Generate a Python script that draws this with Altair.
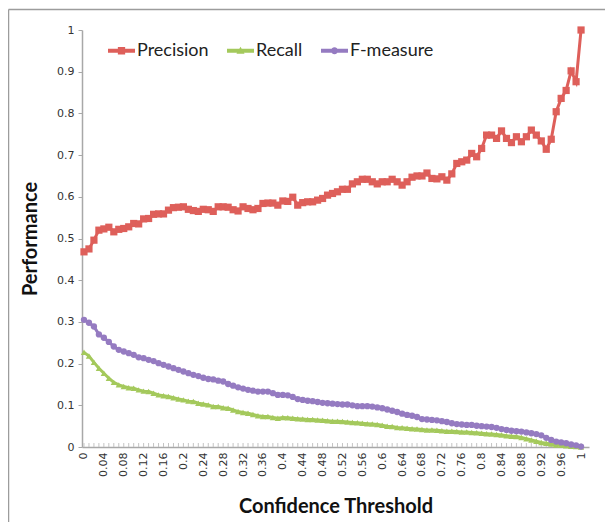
import altair as alt
import pandas as pd

thresholds = [round(i * 0.01, 2) for i in range(101)]

precision = [
    0.468, 0.475, 0.496, 0.520, 0.523, 0.527, 0.516, 0.522, 0.524, 0.528,
    0.536, 0.535, 0.547, 0.548, 0.558, 0.559, 0.559, 0.568, 0.574, 0.575,
    0.576, 0.570, 0.567, 0.565, 0.570, 0.569, 0.565, 0.576, 0.576, 0.575,
    0.569, 0.566, 0.576, 0.572, 0.569, 0.572, 0.584, 0.585, 0.585, 0.580,
    0.590, 0.589, 0.599, 0.580, 0.586, 0.588, 0.588, 0.592, 0.596, 0.604,
    0.608, 0.612, 0.618, 0.618, 0.631, 0.636, 0.642, 0.642, 0.636, 0.631,
    0.636, 0.636, 0.642, 0.636, 0.628, 0.636, 0.647, 0.650, 0.650, 0.657,
    0.644, 0.643, 0.648, 0.640, 0.655, 0.680, 0.684, 0.688, 0.704, 0.696,
    0.716, 0.748, 0.748, 0.740, 0.758, 0.740, 0.730, 0.744, 0.732, 0.744,
    0.760, 0.748, 0.734, 0.714, 0.738, 0.804, 0.836, 0.855, 0.902, 0.876,
    1.000,
]

recall = [
    0.227, 0.218, 0.203, 0.189, 0.177, 0.165, 0.155, 0.149, 0.145, 0.142,
    0.141, 0.137, 0.134, 0.133, 0.129, 0.125, 0.123, 0.121, 0.118, 0.115,
    0.113, 0.110, 0.109, 0.105, 0.103, 0.101, 0.097, 0.097, 0.094, 0.093,
    0.089, 0.085, 0.083, 0.081, 0.078, 0.075, 0.073, 0.073, 0.071, 0.069,
    0.071, 0.070, 0.069, 0.068, 0.067, 0.066, 0.066, 0.065, 0.064, 0.063,
    0.062, 0.062, 0.061, 0.060, 0.059, 0.058, 0.057, 0.056, 0.055, 0.054,
    0.052, 0.050, 0.049, 0.047, 0.046, 0.045, 0.044, 0.043, 0.042, 0.041,
    0.041, 0.040, 0.039, 0.038, 0.038, 0.037, 0.036, 0.036, 0.035, 0.034,
    0.033, 0.032, 0.031, 0.030, 0.029, 0.027, 0.026, 0.025, 0.023, 0.020,
    0.017, 0.014, 0.011, 0.009, 0.007, 0.005, 0.004, 0.003, 0.002, 0.001,
    0.000,
]

fmeasure = [
    0.305, 0.298, 0.289, 0.270, 0.262, 0.252, 0.241, 0.233, 0.229, 0.225,
    0.221, 0.215, 0.213, 0.209, 0.206, 0.201, 0.197, 0.193, 0.189, 0.185,
    0.181, 0.177, 0.173, 0.170, 0.166, 0.163, 0.162, 0.159, 0.157, 0.151,
    0.147, 0.143, 0.140, 0.137, 0.135, 0.133, 0.133, 0.133, 0.129, 0.125,
    0.125, 0.124, 0.120, 0.115, 0.113, 0.111, 0.110, 0.108, 0.106, 0.105,
    0.104, 0.103, 0.102, 0.102, 0.100, 0.098, 0.098, 0.098, 0.097, 0.095,
    0.093, 0.090, 0.087, 0.084, 0.080, 0.077, 0.075, 0.072, 0.067, 0.066,
    0.065, 0.064, 0.062, 0.060, 0.057, 0.055, 0.054, 0.053, 0.053, 0.051,
    0.050, 0.049, 0.048, 0.046, 0.043, 0.041, 0.039, 0.038, 0.037, 0.035,
    0.033, 0.031, 0.028, 0.022, 0.017, 0.013, 0.011, 0.009, 0.006, 0.004,
    0.001,
]

series_names = ["Precision", "Recall", "F-measure"]
series_colors = ["#DE5F5A", "#A4C95C", "#957BC1"]
x_tick_labels = [round(i * 0.04, 2) for i in range(26)]
y_tick_labels = [round(i * 0.1, 1) for i in range(11)]

rows = []
for name, vals in zip(series_names, [precision, recall, fmeasure]):
    for t, v in zip(thresholds, vals):
        rows.append({"t": t, "v": v, "s": name})
df = pd.DataFrame(rows)
ticks_df = pd.DataFrame({"t": thresholds})
legend_df = pd.DataFrame({"t": [0.5] * 3, "v": [-1.0] * 3, "s": series_names})

W, H = 507, 417

xscale = alt.Scale(domain=[-0.004, 1.016], nice=False, zero=False)
yscale = alt.Scale(domain=[0, 1], nice=False)

x_axis = alt.Axis(
    values=x_tick_labels, format=".2~f", labelAngle=-90, ticks=False,
    labelOverlap=False, labelFlush=False, labelBound=False,
    title="Confidence Threshold", titleFont="Lato", titleFontSize=20,
    titleFontWeight="bold", titleColor="#111", titlePadding=20,
    labelFont="DejaVu Sans", labelFontSize=11, labelColor="#333",
    labelPadding=5, domainColor="#a8a8a8", domainWidth=1.5, grid=False,
)
y_axis = alt.Axis(
    values=y_tick_labels, format=".1~f", tickSize=4, tickColor="#a8a8a8",
    labelOverlap=False, labelFlush=False,
    title="Performance", titleFont="Lato", titleFontSize=20,
    titleFontWeight="bold", titleColor="#111", titlePadding=16,
    labelFont="DejaVu Sans", labelFontSize=11, labelColor="#333",
    labelPadding=4, domainColor="#a8a8a8", domainWidth=1.5, grid=False,
)

base = alt.Chart(df)
one = pd.DataFrame({"k": [0]})

frame_top = alt.Chart(one).mark_rule(color="#9c9c9c", strokeWidth=1.5).encode(
    x=alt.value(-73.5), x2=alt.value(W + 40), y=alt.value(-20.5),
)
frame_left = alt.Chart(one).mark_rule(color="#9c9c9c", strokeWidth=1.5).encode(
    x=alt.value(-73.5), y=alt.value(-20.5), y2=alt.value(H + 90),
)

tick_layer = alt.Chart(ticks_df).mark_rule(color="#c4c4c4", strokeWidth=1).encode(
    x=alt.X("t:Q", scale=xscale, axis=x_axis),
    y=alt.datum(0, scale=yscale),
    y2=alt.value(H - 4),
)

marker_shapes = {"Precision": ("square", 52), "Recall": ("triangle-up", 40), "F-measure": ("circle", 40)}
series_layers = []
for name, col in zip(series_names, series_colors):
    sub = base.transform_filter(alt.datum.s == name)
    shp, sz = marker_shapes[name]
    series_layers.append(
        sub.mark_line(strokeWidth=3, color=col).encode(
            x=alt.X("t:Q", scale=xscale, axis=x_axis),
            y=alt.Y("v:Q", scale=yscale, axis=y_axis),
        )
    )
    series_layers.append(
        sub.mark_point(shape=shp, size=sz, filled=True, opacity=1, color=col).encode(
            x=alt.X("t:Q", scale=xscale, axis=x_axis),
            y=alt.Y("v:Q", scale=yscale, axis=y_axis),
        )
    )

line_bar = "M-1,-0.15H1V0.15H-1Z"
legend_paths = [
    line_bar + "M-0.27,-0.27H0.27V0.27H-0.27Z",
    line_bar + "M0,-0.3L0.3,0.22H-0.3Z",
    line_bar + "M0.26,0A0.26,0.26 0 1,1 -0.26,0A0.26,0.26 0 1,1 0.26,0Z",
]

leg = alt.Legend(
    title=None, orient="none", legendX=26, legendY=7,
    direction="horizontal", symbolSize=729, labelFont="Lato",
    labelFontSize=18, labelColor="#222", labelOffset=2,
    columnPadding=18, symbolStrokeWidth=0, padding=0,
)

legend_layer = alt.Chart(legend_df).mark_point(
    filled=True, size=729, opacity=1, clip=True
).encode(
    x=alt.X("t:Q", scale=xscale, axis=x_axis),
    y=alt.Y("v:Q", scale=yscale, axis=y_axis),
    color=alt.Color("s:N", scale=alt.Scale(domain=series_names, range=series_colors), legend=leg),
    shape=alt.Shape("s:N", scale=alt.Scale(domain=series_names, range=legend_paths), legend=leg),
)

chart = alt.layer(frame_top, frame_left, tick_layer, *series_layers, legend_layer).properties(
    width=W, height=H,
    autosize=alt.AutoSizeParams(type="none"),
    padding={"left": 74, "top": 22, "right": 16, "bottom": 75},
    background="white",
).configure_view(stroke=None).configure_axis(labelOverlap=False)

chart.save("out.html", embed_options={"renderer": "svg", "actions": False})
